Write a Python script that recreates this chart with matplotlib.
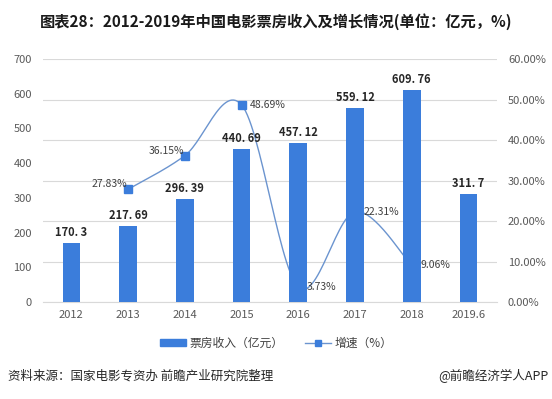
import numpy as np
import matplotlib
matplotlib.use("Agg")
import matplotlib.pyplot as plt
from matplotlib.lines import Line2D
from matplotlib.patches import Patch

plt.rcParams['font.family'] = ['Noto Sans CJK SC', 'DejaVu Sans']

years = ['2012', '2013', '2014', '2015', '2016', '2017', '2018', '2019.6']
revenue = [170.3, 217.69, 296.39, 440.69, 457.12, 559.12, 609.76, 311.7]
revenue_labels = ['170. 3', '217. 69', '296. 39', '440. 69', '457. 12', '559. 12', '609. 76', '311. 7']
growth_years = ['2013', '2014', '2015', '2016', '2017', '2018']
growth = [27.83, 36.15, 48.69, 3.73, 22.31, 9.06]

bar_color = '#3B7DDB'
line_color = '#6B94CF'
grid_color = '#D9D9D9'
tick_color = '#595959'


def smooth(xs, ys, n=30):
    # bezier smoothing like office charts
    xs = np.asarray(xs, float)
    ys = np.asarray(ys, float)
    px, py = [], []
    for i in range(len(xs) - 1):
        x0, y0 = (xs[i - 1], ys[i - 1]) if i > 0 else (xs[i], ys[i])
        x3, y3 = (xs[i + 2], ys[i + 2]) if i + 2 < len(xs) else (xs[i + 1], ys[i + 1])
        c1x = xs[i] + (xs[i + 1] - x0) / 6
        c1y = ys[i] + (ys[i + 1] - y0) / 6
        c2x = xs[i + 1] - (x3 - xs[i]) / 6
        c2y = ys[i + 1] - (y3 - ys[i]) / 6
        t = np.linspace(0, 1, n)
        px.extend((1 - t) ** 3 * xs[i] + 3 * (1 - t) ** 2 * t * c1x + 3 * (1 - t) * t ** 2 * c2x + t ** 3 * xs[i + 1])
        py.extend((1 - t) ** 3 * ys[i] + 3 * (1 - t) ** 2 * t * c1y + 3 * (1 - t) * t ** 2 * c2y + t ** 3 * ys[i + 1])
    return px, py


fig = plt.figure(figsize=(5.52, 3.99), dpi=100)
ax = fig.add_axes([0.078, 0.243, 0.822, 0.609])
ax2 = ax.twinx()
# line behind bars
ax.set_zorder(2)
ax.patch.set_visible(False)
ax2.set_zorder(1)

x = np.arange(len(years))
ax.bar(x, revenue, width=0.31, color=bar_color, zorder=3)
for xi, v, lab in zip(x, revenue, revenue_labels):
    ax.text(xi, v + 12, lab, ha='center', va='bottom', fontsize=8,
            fontweight='bold', color='#262626', zorder=5)

gx = [years.index(y) for y in growth_years]
sx, sy = smooth(gx, growth)
ax2.plot(sx, sy, color=line_color, lw=1.0, zorder=2)
ax2.plot(gx, growth, ls='none', marker='s', ms=6, color=bar_color, zorder=3)

# growth labels, drawn on top of the bars
for xi, v in zip(gx, growth):
    lab = '%.2f%%' % v
    if xi in (1, 2):
        ax.text(xi - 0.02, v, lab, transform=ax2.transData, ha='right', va='bottom',
                fontsize=7.5, color='#404040', zorder=6)
    else:
        ax.text(xi + 0.15, v, lab, transform=ax2.transData, ha='left', va='center',
                fontsize=7.5, color='#404040', zorder=6)

ax.set_xlim(-0.5, len(years) - 0.5)
ax.set_ylim(0, 700)
ax.set_yticks(range(0, 701, 100))
ax2.set_ylim(0, 60)
ax2.set_yticks(range(0, 61, 10))
ax2.set_yticklabels(['%.2f%%' % t for t in range(0, 61, 10)])
ax2.yaxis.grid(True, color=grid_color, lw=0.8)
ax2.set_axisbelow(True)

ax.set_xticks(x)
ax.set_xticklabels(years)
for a in (ax, ax2):
    for s in a.spines.values():
        s.set_visible(False)
    a.tick_params(length=0, labelsize=8, labelcolor=tick_color)
ax.spines['bottom'].set_visible(True)
ax.spines['bottom'].set_color(grid_color)
ax.tick_params(axis='x', pad=6)
ax.tick_params(axis='y', pad=8)
ax2.tick_params(axis='y', pad=8)

fig.text(0.5, 0.946, '图表28：2012-2019年中国电影票房收入及增长情况(单位：亿元，%)',
         ha='center', va='center', fontsize=11, fontweight='bold', color='#1a1a1a')

handles = [Patch(color=bar_color),
           Line2D([], [], color=line_color, marker='s', ms=5, markerfacecolor=bar_color,
                  markeredgecolor=bar_color, lw=1)]
fig.legend(handles, ['票房收入（亿元）', '增速（%）'], loc='center', bbox_to_anchor=(0.5, 0.14),
           ncol=2, frameon=False, fontsize=8.5, handlelength=2.2, handleheight=0.6,
           columnspacing=1.8, handletextpad=0.3, labelcolor='#404040')

fig.text(0.015, 0.057, '资料来源：国家电影专资办 前瞻产业研究院整理', ha='left', va='center',
         fontsize=9, color='#262626')
fig.text(0.993, 0.057, '@前瞻经济学人APP', ha='right', va='center', fontsize=9, color='#262626')

fig.savefig('out.png', dpi=100)
